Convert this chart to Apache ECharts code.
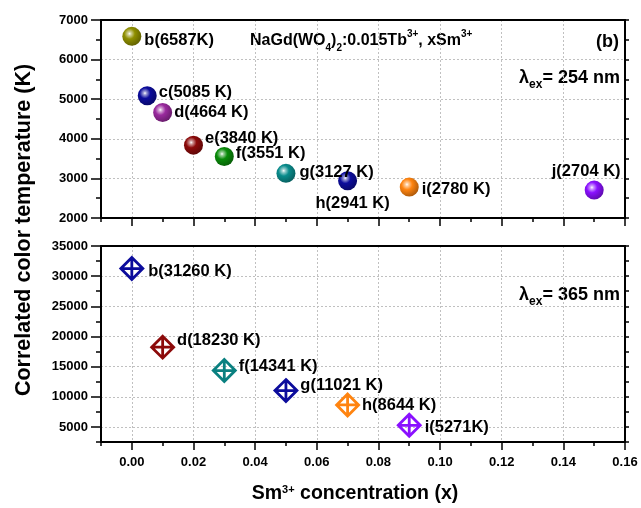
<!DOCTYPE html>
<html>
<head>
<meta charset="utf-8">
<script src="https://cdn.jsdelivr.net/npm/echarts@6/dist/echarts.min.js"></script>
<style>
  html, body { margin: 0; padding: 0; background: #fff; }
  #chart { width: 641px; height: 508px; }
</style>
</head>
<body>
<div id="chart"></div>
<script>
// Sm3+ concentration vs correlated color temperature
// Upper panel: excitation at 254 nm, lower panel: excitation at 365 nm

const topLetters = ['b', 'c', 'd', 'e', 'f', 'g', 'h', 'i', 'j'];
const topConc = [0, 0.005, 0.01, 0.02, 0.03, 0.05, 0.07, 0.09, 0.15];
const topCCT = [6587, 5085, 4664, 3840, 3551, 3127, 2941, 2780, 2704];
const topUnitSep = ['', ' ', ' ', ' ', ' ', ' ', ' ', ' ', ' '];

const bottomLetters = ['b', 'd', 'f', 'g', 'h', 'i'];
const bottomConc = [0, 0.01, 0.03, 0.05, 0.07, 0.09];
const bottomCCT = [31260, 18230, 14341, 11021, 8644, 5271];
const bottomUnitSep = [' ', ' ', ' ', ' ', ' ', ''];

const xTicks = [0, 0.02, 0.04, 0.06, 0.08, 0.10, 0.12, 0.14, 0.16];
const topYTicks = [2000, 3000, 4000, 5000, 6000, 7000];
const bottomYTicks = [5000, 10000, 15000, 20000, 25000, 30000, 35000];

// marker colours
const topColors = ['#8f8f00', '#0c0c9c', '#9a2a9e', '#8c0a0a', '#0a8c0a', '#0a8c8c', '#0c0c9c', '#ff8410', '#8a10ff'];
const bottomColors = ['#0c0c9c', '#8c0a0a', '#0a8080', '#0c0c9c', '#ff8410', '#8a10ff'];

// label placement for each marker: [position, offsetX, offsetY, distance]
const topLabelPlace = [
  ['right', 0, 4.5, 3], ['right', 0, -3, 2], ['right', 0, 0, 2], ['right', 0, -7, 2],
  ['right', 0, -3, 2], ['right', 0, -1, 4], ['bottom', 5, 0, 5], ['right', 0, 2.5, 3],
  ['top', -8, 0, 1]
];
const bottomLabelPlace = [
  ['right', 0, 2.5, 4], ['right', 0, -6.5, 2], ['right', 0, -4.5, 2],
  ['right', 0, -5, 2], ['right', 0, 1, 2], ['right', 0, 2, 3]
];

const FONT = "'Liberation Sans', Arial, Helvetica, sans-serif";
const INK = '#000';

function shade(hex, f) {
  const n = parseInt(hex.slice(1), 16);
  let r = (n >> 16) & 255, g = (n >> 8) & 255, b = n & 255;
  if (f >= 0) { r += (255 - r) * f; g += (255 - g) * f; b += (255 - b) * f; }
  else { r *= 1 + f; g *= 1 + f; b *= 1 + f; }
  return 'rgb(' + Math.round(r) + ',' + Math.round(g) + ',' + Math.round(b) + ')';
}

function sphere(c) {
  return new echarts.graphic.RadialGradient(0.38, 0.36, 0.7, [
    { offset: 0, color: '#ffffff' },
    { offset: 0.12, color: shade(c, 0.6) },
    { offset: 0.4, color: c },
    { offset: 1, color: shade(c, -0.35) }
  ]);
}

const labelStyle = { fontFamily: FONT, fontWeight: 'bold', fontSize: 16.5, color: INK };

function makeLabel(place, text) {
  return Object.assign({
    show: true,
    position: place[0],
    offset: [place[1], place[2]],
    distance: place[3],
    formatter: text
  }, labelStyle);
}

const topData = topConc.map((x, i) => ({
  value: [x, topCCT[i]],
  itemStyle: { color: sphere(topColors[i]), opacity: 1 },
  label: makeLabel(topLabelPlace[i], topLetters[i] + '(' + topCCT[i] + topUnitSep[i] + 'K)')
}));

const bottomData = bottomConc.map((x, i) => ({
  value: [x, bottomCCT[i]],
  itemStyle: { color: 'rgba(0,0,0,0)', borderColor: bottomColors[i], borderWidth: 2.8, opacity: 1 },
  label: makeLabel(bottomLabelPlace[i], bottomLetters[i] + '(' + bottomCCT[i] + bottomUnitSep[i] + 'K)')
}));

const axisLine = { show: true, onZero: false, lineStyle: { color: INK, width: 2 } };
const noLine = { show: false, onZero: false };
const gridLine = { show: true, lineStyle: { color: '#c0c0c0', width: 1, type: [2, 2] } };
const tickLabel = { fontFamily: FONT, fontWeight: 'bold', fontSize: 13, color: INK };
const tickStyle = { color: INK, width: 1.5 };

function xAxesFor(grid, showLabels) {
  return [
    { // minor ticks every 0.01
      type: 'value', gridIndex: grid, min: -0.01, max: 0.16, interval: 0.01, position: 'bottom',
      axisLine: axisLine, axisTick: { show: true, inside: false, length: 4, lineStyle: tickStyle },
      axisLabel: { show: false }, splitLine: { show: false }
    },
    { // major ticks, grid lines and labels
      type: 'value', gridIndex: grid, min: -0.01, max: 0.16, position: 'bottom',
      axisLine: noLine,
      axisTick: { show: true, length: 8, customValues: xTicks, lineStyle: tickStyle },
      axisLabel: Object.assign({ show: showLabels, customValues: xTicks, margin: 14,
        formatter: v => v.toFixed(2) }, tickLabel),
      splitLine: gridLine,
      name: showLabels ? 'Sm{p|3+} concentration (x)' : '',
      nameLocation: 'middle', nameGap: 42,
      nameTextStyle: {
        fontFamily: FONT, fontWeight: 'bold', fontSize: 19.5, color: INK,
        padding: [0, 16, 0, 0],
        rich: { p: { fontFamily: FONT, fontWeight: 'bold', fontSize: 11, color: INK, verticalAlign: 'top', lineHeight: 11 } }
      }
    },
    { // frame on top
      type: 'value', gridIndex: grid, min: -0.01, max: 0.16, position: 'top',
      axisLine: axisLine, axisTick: { show: false }, axisLabel: { show: false }, splitLine: { show: false }
    }
  ];
}

const plain = v => String(Math.round(v));

const option = {
  animation: false,
  backgroundColor: '#fff',
  grid: [
    { left: 101, top: 20, width: 524, height: 198 },
    { left: 101, top: 246, width: 524, height: 196 }
  ],
  xAxis: [].concat(xAxesFor(0, false), xAxesFor(1, true)),
  yAxis: [
    { // upper panel, left
      type: 'value', gridIndex: 0, min: 2000, max: 7000, interval: 1000, position: 'left',
      axisLine: axisLine,
      axisTick: { show: true, length: 10, lineStyle: tickStyle },
      minorTick: { show: true, splitNumber: 2, length: 5, lineStyle: tickStyle },
      axisLabel: Object.assign({ margin: 13, customValues: topYTicks, formatter: plain }, tickLabel),
      splitLine: gridLine
    },
    { // upper panel, right frame
      type: 'value', gridIndex: 0, min: 2000, max: 7000, interval: 500, position: 'right',
      axisLine: axisLine,
      axisTick: { show: true, length: 4, lineStyle: tickStyle },
      axisLabel: { show: false }, splitLine: { show: false }
    },
    { // lower panel, left minor ticks
      type: 'value', gridIndex: 1, min: 2500, max: 35000, interval: 2500, position: 'left',
      axisLine: axisLine,
      axisTick: { show: true, length: 5, lineStyle: tickStyle },
      axisLabel: { show: false }, splitLine: { show: false }
    },
    { // lower panel, left major ticks and labels
      type: 'value', gridIndex: 1, min: 2500, max: 35000, position: 'left',
      axisLine: noLine,
      axisTick: { show: true, length: 10, customValues: bottomYTicks, lineStyle: tickStyle },
      axisLabel: Object.assign({ margin: 13, customValues: bottomYTicks, formatter: plain }, tickLabel),
      splitLine: gridLine
    },
    { // lower panel, right frame
      type: 'value', gridIndex: 1, min: 2500, max: 35000, interval: 2500, position: 'right',
      axisLine: axisLine,
      axisTick: { show: true, length: 4, lineStyle: tickStyle },
      axisLabel: { show: false }, splitLine: { show: false }
    }
  ],
  series: [
    {
      type: 'scatter', xAxisIndex: 0, yAxisIndex: 0,
      symbol: 'circle', symbolSize: 19,
      itemStyle: { opacity: 1 },
      data: topData, z: 5
    },
    {
      type: 'scatter', xAxisIndex: 3, yAxisIndex: 2,
      symbol: 'path://M10,0 L20,10 L10,20 L0,10 Z M10,0 L10,20 M0,10 L20,10',
      symbolSize: 22,
      itemStyle: { opacity: 1 },
      data: bottomData, z: 5
    }
  ],
  graphic: [
    { // shared y-axis title
      type: 'text', x: 24, y: 230, rotation: Math.PI / 2,
      style: {
        text: 'Correlated color temperature (K)',
        fontFamily: FONT, fontWeight: 'bold', fontSize: 21.5, fill: INK,
        align: 'center', verticalAlign: 'middle'
      }
    },
    {
      type: 'text', x: 250, y: 41,
      style: {
        text: '{n|NaGd(WO}{b|4}{n|)}{b|2}{n|:0.015Tb}{p|3+}{n|, xSm}{p|3+}',
        align: 'left', verticalAlign: 'middle',
        rich: {
          n: { fontFamily: FONT, fontWeight: 'bold', fontSize: 16, fill: INK, lineHeight: 24 },
          b: { fontFamily: FONT, fontWeight: 'bold', fontSize: 10, fill: INK, verticalAlign: 'bottom', lineHeight: 11 },
          p: { fontFamily: FONT, fontWeight: 'bold', fontSize: 10, fill: INK, verticalAlign: 'top', lineHeight: 11 }
        }
      }
    },
    {
      type: 'text', x: 619, y: 42,
      style: {
        text: '(b)', fontFamily: FONT, fontWeight: 'bold', fontSize: 18, fill: INK,
        align: 'right', verticalAlign: 'middle'
      }
    },
    {
      type: 'text', x: 620, y: 78,
      style: {
        text: '{l|λ}{s|ex}{n|= 254 nm}',
        align: 'right', verticalAlign: 'middle',
        rich: {
          l: { fontFamily: FONT, fontWeight: 'bold', fontSize: 18, fill: INK, lineHeight: 26 },
          s: { fontFamily: FONT, fontWeight: 'bold', fontSize: 12, fill: INK, verticalAlign: 'bottom', lineHeight: 12 },
          n: { fontFamily: FONT, fontWeight: 'bold', fontSize: 18, fill: INK, lineHeight: 26 }
        }
      }
    },
    {
      type: 'text', x: 620, y: 295,
      style: {
        text: '{l|λ}{s|ex}{n|= 365 nm}',
        align: 'right', verticalAlign: 'middle',
        rich: {
          l: { fontFamily: FONT, fontWeight: 'bold', fontSize: 18, fill: INK, lineHeight: 26 },
          s: { fontFamily: FONT, fontWeight: 'bold', fontSize: 12, fill: INK, verticalAlign: 'bottom', lineHeight: 12 },
          n: { fontFamily: FONT, fontWeight: 'bold', fontSize: 18, fill: INK, lineHeight: 26 }
        }
      }
    }
  ]
};

const chart = echarts.init(document.getElementById('chart'), null, { renderer: 'canvas' });
chart.setOption(option);
</script>
</body>
</html>
